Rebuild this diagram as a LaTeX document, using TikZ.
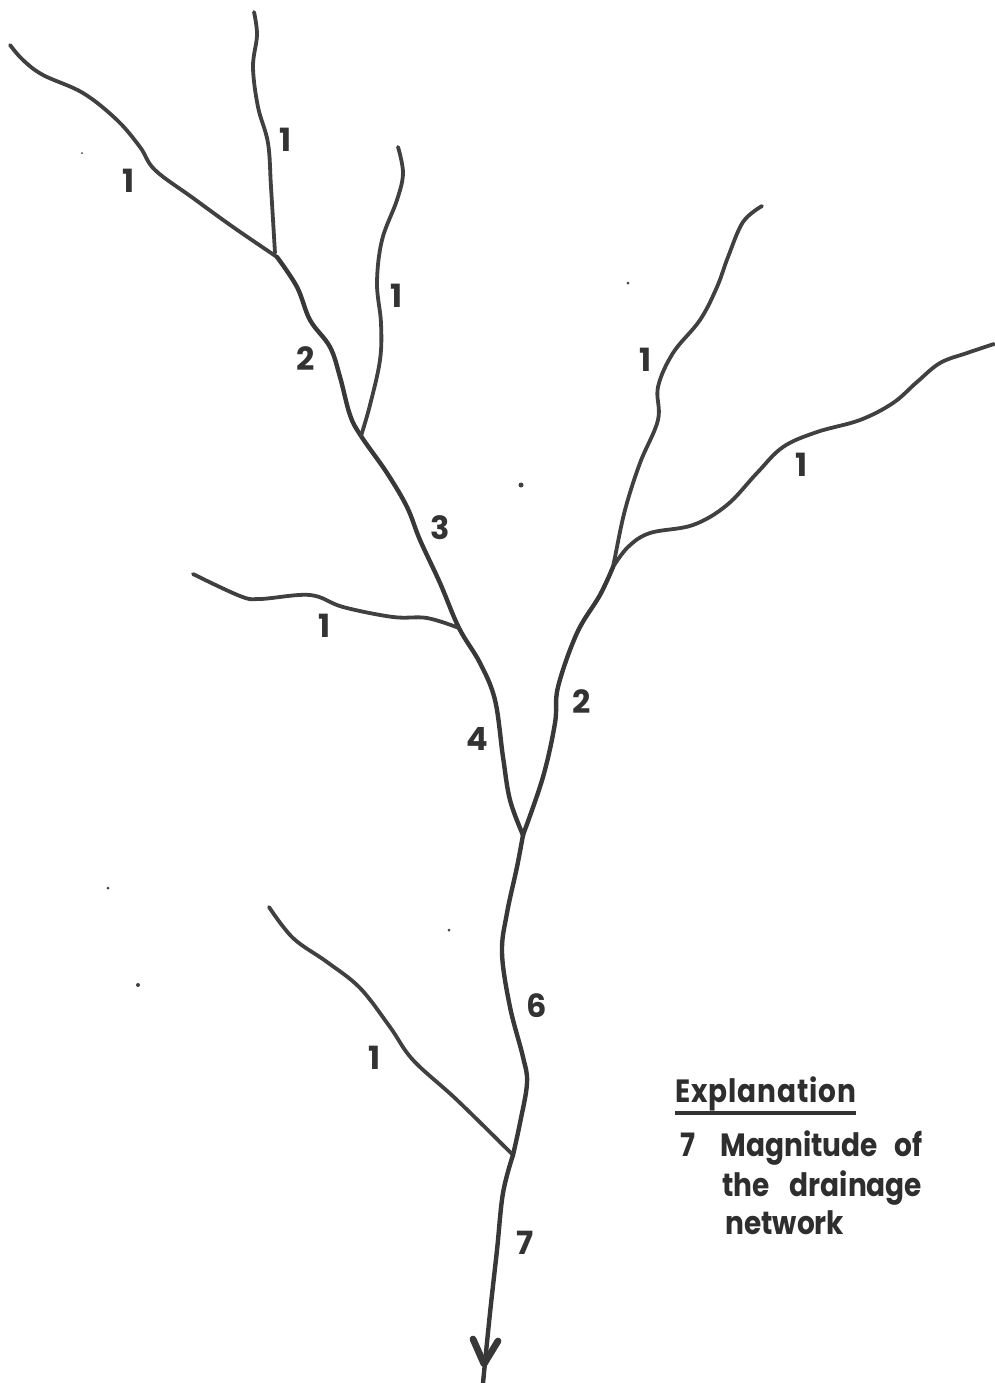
\documentclass[tikz,border=0pt]{standalone}
\usepackage{fontspec}
\setmainfont{Poppins}
\newcommand{\tallertext}[1]{\scalebox{1}[1.15]{#1}}
\tikzset{
  x=0.5pt,y=-0.5pt,
  stream/.style={draw=black!75,line width=1.9pt,line cap=round,line join=round},
  trunk/.style={draw=black!78,line width=2.2pt,line cap=round,line join=round},
  mag/.style={inner sep=0pt,text=black!80,font=\fontsize{16}{16}\selectfont\bfseries},
  legend/.style={inner sep=0pt,anchor=base west,text=black!82,font=\fontsize{14}{14}\selectfont\bfseries},
  speck/.style={fill=black!75,draw=none}
}
\begin{document}
\begin{tikzpicture}
\useasboundingbox (0,0) rectangle (995,1383);
% junctions and free ends
\coordinate (J1) at (277,257);
\coordinate (J2) at (361,436);
\coordinate (J3) at (459,628);
\coordinate (J4) at (523,835);
\coordinate (J5) at (613,567);
\coordinate (J6) at (513,1155);
\coordinate (EA) at (10,45);
\coordinate (EB) at (254,12);
\coordinate (EC) at (398,147);
\coordinate (ED) at (193,574);
\coordinate (EE) at (762,206);
\coordinate (EF) at (994,344);
\coordinate (EG) at (269,907);
\coordinate (Tip) at (483,1383);
\coordinate (BarbL) at (473,1339);
\coordinate (BarbR) at (498,1341);
\coordinate (BarbM) at (484,1364);
% streams
\draw[stream] plot[smooth,tension=0.6] coordinates {(EA) (23,60) (43,75) (83,93) (117,120) (140,147) (155,170) (193,198) (233,227) (J1)};
\draw[stream] plot[smooth,tension=0.6] coordinates {(EB) (257,35) (253,67) (258,107) (268,143) (271,187) (275,253)};
\draw[trunk] plot[smooth,tension=0.6] coordinates {(J1) (297,287) (310,320) (330,347) (340,377) (350,415) (J2) (387,473) (407,507) (420,540) (440,583) (J3) (480,663) (495,700) (503,757) (510,800) (J4)};
\draw[stream] plot[smooth,tension=0.6] coordinates {(EC) (403,173) (397,200) (382,240) (377,283) (381,323) (380,360) (370,405) (J2)};
\draw[stream] plot[smooth,tension=0.6] coordinates {(ED) (240,596) (260,599) (310,595) (343,607) (393,617) (427,618) (J3)};
\draw[stream] plot[smooth,tension=0.6] coordinates {(EE) (743,222) (728,257) (717,287) (700,320) (673,353) (658,387) (658,420) (640,463) (625,510) (615,557) (J5)};
\draw[stream] plot[smooth,tension=0.6] coordinates {(EF) (967,353) (940,363) (917,382) (893,403) (860,420) (817,432) (783,447) (757,473) (727,505) (693,525) (650,533) (628,547) (J5)};
\draw[trunk] plot[smooth,tension=0.6] coordinates {(J5) (600,595) (577,633) (558,687) (555,723) (543,777) (J4)};
\draw[trunk] plot[smooth,tension=0.6] coordinates {(J4) (517,867) (507,913) (502,953) (510,1007) (523,1057) (527,1083) (520,1123) (J6)};
\draw[stream] plot[smooth,tension=0.6] coordinates {(EG) (293,938) (327,962) (360,988) (390,1027) (413,1060) (457,1100) (J6)};
\draw[trunk] plot[smooth,tension=0.6] coordinates {(J6) (503,1193) (497,1250) (490,1313) (Tip)};
% arrowhead
\draw[trunk,line width=3.4pt] (BarbL) -- (BarbM) -- (BarbR);
% labels
\node[mag] (m1a) at (129,181) {1};
\node[mag] (m1b) at (286,140) {1};
\node[mag] (m1c) at (397,296) {1};
\node[mag] (m1d) at (646,360) {1};
\node[mag] (m1e) at (802,465) {1};
\node[mag] (m1f) at (325,626) {1};
\node[mag] (m1g) at (375,1058) {1};
\node[mag] (m2a) at (306,359) {2};
\node[mag] (m2b) at (582,702) {2};
\node[mag] (m3) at (440,528) {3};
\node[mag] (m4) at (477,739) {4};
\node[mag] (m6) at (537,1006) {6};
\node[mag] (m7) at (525,1243) {7};
% legend
\node[legend] (lt) at (675,1102) {\tallertext{\addfontfeature{LetterSpace=3}Explanation}};
\coordinate (UL) at (675,1113);
\coordinate (UR) at (856,1113);
\draw[draw=black!80,line width=2.2pt] (UL) -- (UR);
\node[legend] (l7) at (680,1156) {\tallertext{7}};
\node[legend] (l1) at (720,1156) {\tallertext{Magnitude\hspace{5.5pt} of}};
\node[legend] (l2) at (722,1196) {\tallertext{the\hspace{7pt} drainage}};
\node[legend] (l3) at (725,1234) {\tallertext{network}};
% scan specks
\fill[speck] (521,485) circle (2.5);
\fill[speck] (628,283) circle (1.5);
\fill[speck] (138,985) circle (2);
\fill[speck] (449,930) circle (1.5);
\fill[speck] (108,888) circle (1.5);
\fill[speck] (82,153) circle (1);
\end{tikzpicture}
\end{document}
